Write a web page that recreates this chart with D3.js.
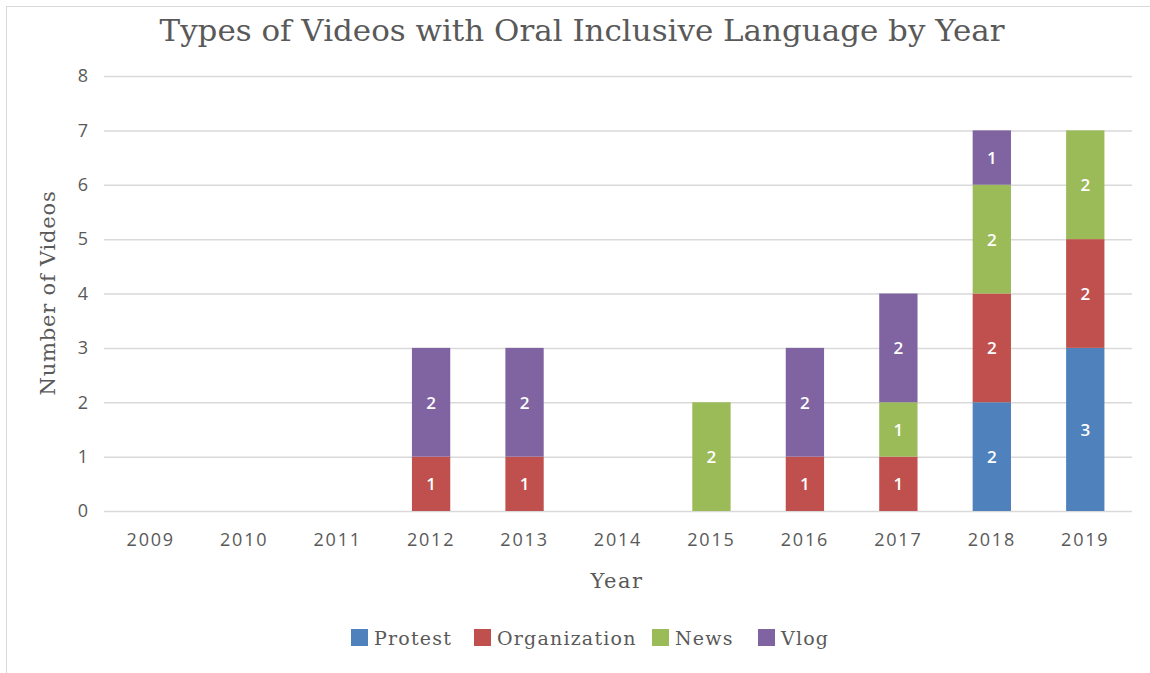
<!DOCTYPE html>
<html>
<head>
<meta charset="utf-8">
<script src="https://cdn.jsdelivr.net/npm/d3@7"></script>
<style>
  html, body { margin: 0; padding: 0; background: #fff; }
  svg { display: block; }
</style>
</head>
<body>
<svg id="chart" width="1150" height="673"></svg>
<script>
// Video counts per year, stacked by video type
const years = ["2009", "2010", "2011", "2012", "2013", "2014", "2015", "2016", "2017", "2018", "2019"];
const protest      = [0, 0, 0, 0, 0, 0, 0, 0, 0, 2, 3];
const organization = [0, 0, 0, 1, 1, 0, 0, 1, 1, 2, 2];
const news         = [0, 0, 0, 0, 0, 0, 2, 0, 1, 2, 2];
const vlog         = [0, 0, 0, 2, 2, 0, 0, 2, 2, 1, 0];
const seriesNames  = ["Protest", "Organization", "News", "Vlog"];
const yTicks       = [0, 1, 2, 3, 4, 5, 6, 7, 8];

const colors = ["#4F81BD", "#C0504D", "#9BBB59", "#8064A2"];
const serif = "'DejaVu Serif', serif";
const sans = "'Open Sans', 'DejaVu Sans', sans-serif";
const textGray = "#595959";

const svg = d3.select("#chart");

// outer frame
svg.append("rect").attr("x", 6.5).attr("y", 6.5).attr("width", 1160).attr("height", 700)
  .attr("fill", "none").attr("stroke", "#d9d9d9").attr("stroke-width", 1);

const plot = { left: 104, right: 1132, top: 76, bottom: 511 };

const x = d3.scaleBand().domain(years).range([plot.left, plot.right]).paddingInner(0.59).paddingOuter(0.295);
const y = d3.scaleLinear().domain([0, 8]).range([plot.bottom, plot.top]);

// title
svg.append("text").attr("x", 582).attr("y", 41).attr("text-anchor", "middle")
  .attr("font-family", serif).attr("font-size", 29).attr("fill", textGray)
  .attr("textLength", 845).attr("lengthAdjust", "spacingAndGlyphs")
  .text("Types of Videos with Oral Inclusive Language by Year");

// gridlines and value axis
const yAxis = d3.axisLeft(y).tickValues(yTicks).tickSize(-(plot.right - plot.left)).tickPadding(16);
const gy = svg.append("g").attr("transform", `translate(${plot.left},0)`).call(yAxis);
gy.select(".domain").remove();
gy.selectAll(".tick line").attr("stroke", "#d9d9d9").attr("stroke-width", 1.5);
gy.selectAll(".tick text").attr("font-family", sans).attr("font-size", 18).attr("fill", textGray);

// year axis labels
const xAxis = d3.axisBottom(x).tickSize(0).tickPadding(22);
const gx = svg.append("g").attr("transform", `translate(0,${plot.bottom})`).call(xAxis);
gx.select(".domain").remove();
gx.selectAll(".tick text").attr("font-family", sans).attr("font-size", 18)
  .attr("letter-spacing", 1.8).attr("fill", textGray);

// stacked bars
const rows = years.map((yr, i) => ({ year: yr, Protest: protest[i], Organization: organization[i], News: news[i], Vlog: vlog[i] }));
const stacked = d3.stack().keys(seriesNames)(rows);

stacked.forEach((layer, si) => {
  const g = svg.append("g");
  layer.forEach(d => {
    const v = d[1] - d[0];
    if (v <= 0) return;
    g.append("rect")
      .attr("x", x(d.data.year)).attr("width", x.bandwidth())
      .attr("y", y(d[1])).attr("height", y(d[0]) - y(d[1]))
      .attr("fill", colors[si]);
    g.append("text")
      .attr("x", x(d.data.year) + x.bandwidth() / 2)
      .attr("y", (y(d[0]) + y(d[1])) / 2 + 6.5)
      .attr("text-anchor", "middle")
      .attr("font-family", sans).attr("font-size", 17).attr("font-weight", 600)
      .attr("fill", "#ffffff").text(v);
  });
});

// axis titles
svg.append("text").attr("x", 617).attr("y", 588).attr("text-anchor", "middle")
  .attr("font-family", serif).attr("font-size", 21).attr("letter-spacing", 1.5)
  .attr("fill", textGray).text("Year");
svg.append("text").attr("transform", "translate(55,293) rotate(-90)").attr("text-anchor", "middle")
  .attr("font-family", serif).attr("font-size", 21).attr("letter-spacing", 0.8)
  .attr("fill", textGray).text("Number of Videos");

// legend
const legendX = [351, 474, 652, 758];
const lg = svg.append("g");
seriesNames.forEach((name, i) => {
  lg.append("rect").attr("x", legendX[i]).attr("y", 629).attr("width", 17).attr("height", 17).attr("fill", colors[i]);
  lg.append("text").attr("x", legendX[i] + 23).attr("y", 645)
    .attr("font-family", serif).attr("font-size", 19).attr("letter-spacing", 1.2)
    .attr("fill", textGray).text(name);
});
</script>
</body>
</html>
